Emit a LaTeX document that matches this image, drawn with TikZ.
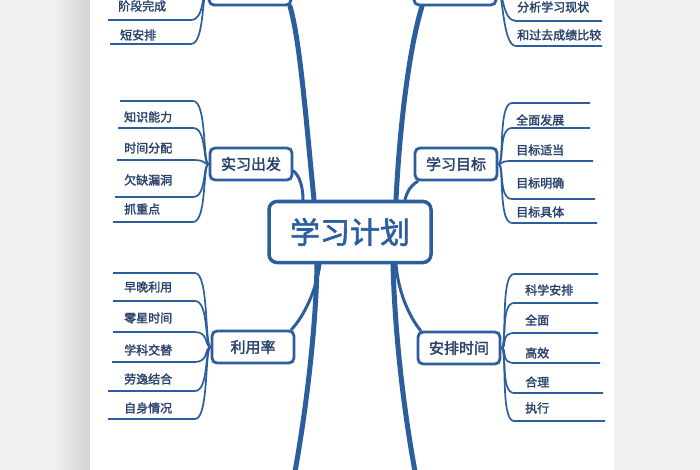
\documentclass[tikz,border=0pt]{standalone}
\usepackage{fontspec}
\newfontfamily\cjk{Noto Sans CJK SC}[AutoFakeBold=2]
\usetikzlibrary{shapes}
\definecolor{mapblue}{RGB}{44,94,158}
\definecolor{mapink}{RGB}{40,66,108}
\tikzstyle{root}=[rectangle, draw=mapblue, line width=3.5pt, rounded corners=8pt, fill=white, minimum width=162pt, minimum height=61pt, text=mapblue, font=\cjk\bfseries\fontsize{30}{30}\selectfont]
\tikzstyle{topic}=[rectangle, draw=mapblue, line width=2.8pt, rounded corners=5pt, fill=white, minimum width=82pt, minimum height=32pt, text=mapink, font=\cjk\bfseries\fontsize{15}{15}\selectfont]
\tikzstyle{leaf}=[text=mapink, inner sep=0pt, anchor=west, font=\cjk\bfseries\fontsize{12}{12}\selectfont]
\tikzstyle{trunk}=[draw=mapblue, line width=5pt, line cap=round]
\tikzstyle{twig}=[draw=mapblue, line width=3pt, line cap=round]
\tikzstyle{line}=[draw=mapblue, line width=1.7pt]

\begin{document}
\begin{tikzpicture}[x=1pt, y=-1pt]
  \useasboundingbox (0,0) rectangle (700,470);
  \clip (0,0) rectangle (700,470);
  %\draw [help lines, step=50] (0,0) grid (700,470);
  \fill[gray!11] (0,0) rectangle (700,470);
  \shade[left color=gray!11, right color=gray!35] (55,0) rectangle (90,470);
  \fill[white] (90,0) rectangle (614,470);

  \node[root] (plan) at (350,232) {学习计划};
  \node[topic] (tlbox) at (250,-11) {};
  \node[topic] (trbox) at (455,-11) {};
  \node[topic] (shixi) at (251,164) {实习出发};
  \node[topic] (mubiao) at (456,164) {学习目标};
  \node[topic] (liyong) at (253,347) {利用率};
  \node[topic] (anpai) at (459,348) {安排时间};

  \coordinate (bl) at (293,482);
  \coordinate (br) at (417,482);

  \draw[trunk] ([xshift=-36pt]plan.north) .. controls (306,120) and (300,40) .. ([xshift=40pt]tlbox.south);
  \draw[trunk] ([xshift=46pt]plan.north) .. controls (400,120) and (410,45) .. ([xshift=-33pt]trbox.south);
  \draw[trunk] ([xshift=-33pt]plan.south) .. controls (316,330) and (305,420) .. (bl);
  \draw[trunk] ([xshift=43pt]plan.south) .. controls (395,340) and (405,420) .. (br);

  \draw[twig] ([yshift=-7pt]shixi.east) .. controls (300,176) and (303,188) .. ([xshift=-47pt]plan.north);
  \draw[twig] ([xshift=4pt]mubiao.south west) .. controls (410,186) and (407,192) .. ([xshift=55pt]plan.north);
  \draw[twig] ([xshift=-30pt]plan.south) .. controls (316,290) and (305,315) .. ([xshift=-4pt]liyong.north east);
  \draw[twig] ([xshift=46pt]plan.south) .. controls (398,290) and (408,315) .. ([xshift=4pt]anpai.north west);

  % top left
  \foreach \y/\xl [count=\i] in {20/108,44/110}
    \draw[line] (tlbox.west) .. controls +(-6,0) and +(14,0) .. (191,\y) -- (\xl,\y) coordinate (tl\i);
  \node[leaf] (tlt1) at (118,6) {阶段完成};
  \node[leaf] (tlt2) at (120,35) {短安排};

  % top right
  \foreach \y/\xr [count=\i] in {21/602,46/602}
    \draw[line] (trbox.east) .. controls +(6,0) and +(-14,0) .. (516,\y) -- (\xr,\y) coordinate (tr\i);
  \node[leaf] (trt1) at (517,7) {分析学习现状};
  \node[leaf] (trt2) at (517,35) {和过去成绩比较};

  % shixi
  \foreach \y/\xl [count=\i] in {101/120,128/118,160/117,197/115,222/113}
    \draw[line] (shixi.west) .. controls +(-6,0) and +(14,0) .. (193,\y) -- (\xl,\y) coordinate (sx\i);
  \foreach \t/\y [count=\i] in {知识能力/117,时间分配/148,欠缺漏洞/180,抓重点/209}
    \node[leaf] (sxt\i) at (124,\y) {\t};

  % mubiao
  \foreach \y/\xr [count=\i] in {103/590,128/590,161/593,199/595,223/597}
    \draw[line] (mubiao.east) .. controls +(6,0) and +(-14,0) .. (512,\y) -- (\xr,\y) coordinate (mb\i);
  \foreach \t/\y [count=\i] in {全面发展/120,目标适当/150,目标明确/183,目标具体/212}
    \node[leaf] (mbt\i) at (516,\y) {\t};

  % liyong
  \foreach \y/\xl [count=\i] in {273/113,301/113,332/113,362/112,391/108,419/108}
    \draw[line] (liyong.west) .. controls +(-6,0) and +(14,0) .. (195,\y) -- (\xl,\y) coordinate (ly\i);
  \foreach \t/\y [count=\i] in {早晚利用/287,零星时间/318,学科交替/350,劳逸结合/379,自身情况/408}
    \node[leaf] (lyt\i) at (124,\y) {\t};

  % anpai
  \foreach \y/\xr [count=\i] in {274/598,303/598,333/598,363/600,393/603,421/605}
    \draw[line] (anpai.east) .. controls +(6,0) and +(-14,0) .. (514,\y) -- (\xr,\y) coordinate (ap\i);
  \foreach \t/\y [count=\i] in {科学安排/290,全面/320,高效/353,合理/382,执行/408}
    \node[leaf] (apt\i) at (525,\y) {\t};

\end{tikzpicture}
\end{document}
